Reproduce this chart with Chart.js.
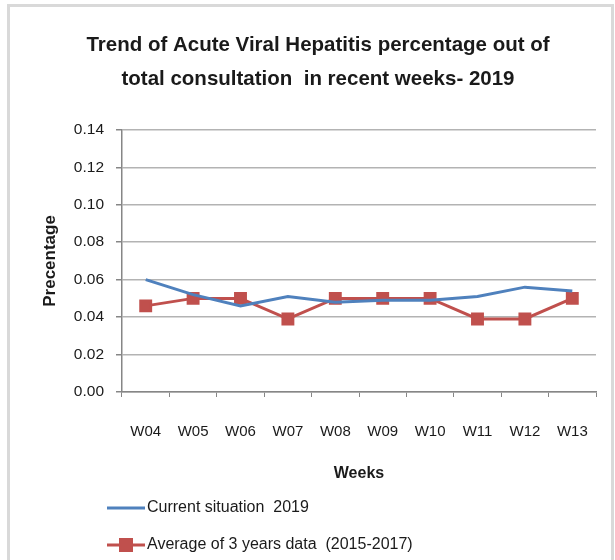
<!DOCTYPE html>
<html>
<head>
<meta charset="utf-8">
<script src="https://cdn.jsdelivr.net/npm/chart.js@4.4.1/dist/chart.umd.min.js"></script>
<style>
  html, body { margin: 0; padding: 0; background: #fff; }
  #frame {
    position: absolute; left: 7px; top: 4px; width: 601px; height: 570px;
    border: 3px solid #d9d9d9; border-bottom: none;
  }
  #wrap { position: absolute; left: 0; top: 0; width: 615px; height: 560px; }
</style>
</head>
<body>
<div id="frame"></div>
<div id="wrap"><canvas id="hepChart" width="615" height="560"></canvas></div>
<script>
// data
const weeks = ['W04', 'W05', 'W06', 'W07', 'W08', 'W09', 'W10', 'W11', 'W12', 'W13'];
const current2019 = [0.060, 0.052, 0.046, 0.051, 0.048, 0.049, 0.049, 0.051, 0.056, 0.054];
const avg3Years = [0.046, 0.050, 0.050, 0.039, 0.050, 0.050, 0.050, 0.039, 0.039, 0.050];
const seriesNames = ['Current situation  2019', 'Average of 3 years data  (2015-2017)'];
const titleLines = ['Trend of Acute Viral Hepatitis percentage out of', 'total consultation  in recent weeks- 2019'];

const fam = "'Liberation Sans', Arial, sans-serif";
const blue = '#4f81bd';
const red = '#c0504d';
const ink = '#1a1a1a';

// legend drawn under the chart, one entry per line like the original
const stackedLegend = {
  id: 'stackedLegend',
  afterDraw(chart) {
    const c = chart.ctx;
    c.save();
    c.font = '16px ' + fam;
    c.textBaseline = 'middle';
    chart.data.datasets.forEach((ds, i) => {
      const y = 508 + i * 37;
      c.strokeStyle = ds.borderColor;
      c.lineWidth = 3;
      c.beginPath();
      c.moveTo(107, y);
      c.lineTo(145, y);
      c.stroke();
      if (ds.pointRadius > 0) {
        c.fillStyle = ds.pointBackgroundColor;
        c.fillRect(126 - 7, y - 7, 14, 14);
      }
      c.fillStyle = ink;
      c.fillText(ds.label, 147, y);
    });
    c.restore();
  }
};

const ctx = document.getElementById('hepChart').getContext('2d');
new Chart(ctx, {
  type: 'line',
  data: {
    labels: weeks,
    datasets: [
      {
        label: seriesNames[0],
        data: current2019,
        borderColor: blue,
        backgroundColor: blue,
        borderWidth: 3,
        pointRadius: 0,
        pointHoverRadius: 0,
        tension: 0,
        fill: false
      },
      {
        label: seriesNames[1],
        data: avg3Years,
        borderColor: red,
        backgroundColor: red,
        pointBackgroundColor: red,
        pointBorderColor: red,
        pointStyle: 'rect',
        borderWidth: 3,
        pointRadius: 7,
        tension: 0,
        fill: false
      }
    ]
  },
  options: {
    responsive: false,
    animation: false,
    layout: { padding: { left: 40, right: 19, top: 5, bottom: 73 } },
    plugins: {
      legend: { display: false },
      tooltip: { enabled: false },
      title: {
        display: true,
        text: titleLines,
        color: ink,
        font: { family: fam, size: 20.5, weight: 'bold', lineHeight: 1.68 },
        padding: { top: 23, bottom: 33 }
      }
    },
    scales: {
      x: {
        offset: true,
        grid: { offset: true, drawOnChartArea: false, tickLength: 5, color: '#868686' },
        border: { color: '#868686', width: 1.5 },
        ticks: { color: ink, padding: 26, font: { family: fam, size: 15 } },
        title: {
          display: true,
          text: 'Weeks',
          color: ink,
          font: { family: fam, size: 16, weight: 'bold' },
          padding: { top: 17 }
        },
        afterFit(scale) { scale.height = 95; }
      },
      y: {
        min: 0,
        max: 0.14,
        ticks: {
          stepSize: 0.02,
          color: ink,
          padding: 12,
          font: { family: fam, size: 15.5 },
          callback: v => v.toFixed(2)
        },
        grid: { color: '#b3b3b3', lineWidth: 1.5, tickLength: 6, tickColor: '#868686' },
        border: { color: '#868686', width: 1.5 },
        title: {
          display: true,
          text: 'Precentage',
          color: ink,
          font: { family: fam, size: 17, weight: 'bold' },
          padding: { top: 0, bottom: 0 }
        },
        afterFit(scale) { scale.width = 82; }
      }
    }
  },
  plugins: [stackedLegend]
});
</script>
</body>
</html>
